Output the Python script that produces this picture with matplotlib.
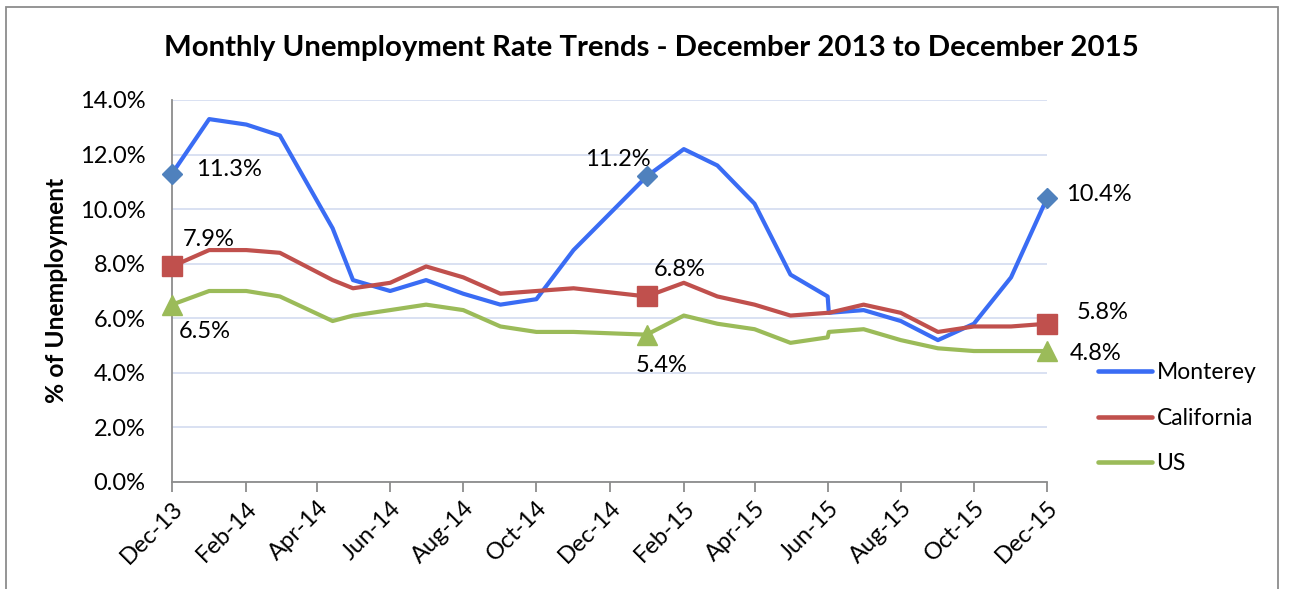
import matplotlib
matplotlib.use('Agg')
import matplotlib.pyplot as plt
import matplotlib.dates as mdates
from matplotlib.lines import Line2D
from matplotlib.patches import Rectangle
from matplotlib.ticker import FuncFormatter
import pandas as pd

# ---------------- data ----------------
dates = pd.to_datetime([
    '2013-12-01', '2014-01-01', '2014-02-01', '2014-03-01', '2014-04-14',
    '2014-05-01', '2014-06-01', '2014-07-01', '2014-08-01', '2014-09-01',
    '2014-10-01', '2014-11-01', '2015-01-01', '2015-02-01', '2015-03-01',
    '2015-04-01', '2015-05-01', '2015-06-01', '2015-06-02', '2015-07-01',
    '2015-08-01', '2015-09-01', '2015-10-01', '2015-11-01', '2015-12-01'])
monterey = [11.3, 13.3, 13.1, 12.7, 9.3, 7.4, 7.0, 7.4, 6.9, 6.5, 6.7, 8.5, 11.2,
            12.2, 11.6, 10.2, 7.6, 6.8, 6.2, 6.3, 5.9, 5.2, 5.8, 7.5, 10.4]
california = [7.9, 8.5, 8.5, 8.4, 7.4, 7.1, 7.3, 7.9, 7.5, 6.9, 7.0, 7.1, 6.8,
              7.3, 6.8, 6.5, 6.1, 6.2, 6.2, 6.5, 6.2, 5.5, 5.7, 5.7, 5.8]
us = [6.5, 7.0, 7.0, 6.8, 5.9, 6.1, 6.3, 6.5, 6.3, 5.7, 5.5, 5.5, 5.4,
      6.1, 5.8, 5.6, 5.1, 5.3, 5.5, 5.6, 5.2, 4.9, 4.8, 4.8, 4.8]
series_names = ['Monterey', 'California', 'US']
labelled_idx = [0, 12, 24]
y_ticks = [0, 2, 4, 6, 8, 10, 12, 14]
x_start, x_end = pd.Timestamp('2013-12-01'), pd.Timestamp('2015-12-01')
title = 'Monthly Unemployment Rate Trends - December 2013 to December 2015'
y_label = '% of Unemployment'

# ---------------- style ----------------
plt.rcParams['font.family'] = ['Lato', 'DejaVu Sans']
W, H = 1289, 589
fig = plt.figure(figsize=(W / 100, H / 100), dpi=100)
fig.patch.set_facecolor('white')

ax = fig.add_axes([172 / W, 1 - 482 / H, (1047 - 172) / W, (482 - 100) / H])

line_colors = ['#3a6cf4', '#c0504d', '#9bbb59']
marker_colors = ['#4f81bd', '#c0504d', '#9bbb59']
markers = ['D', 's', '^']
marker_sizes = [10, 14, 15]
label_offsets = [
    [(57, 6.6), (-29, 18.4), (52, 6.2)],
    [(37, 29.4), (33, 29.4), (56, 13.7)],
    [(33, -24.4), (15, -28.4), (49, 0)],
]

all_series = [monterey, california, us]
for vals, name, lc, mc, mk, ms, offs in zip(all_series, series_names, line_colors,
                                            marker_colors, markers, marker_sizes,
                                            label_offsets):
    ax.plot(dates, vals, color=lc, lw=3.0, solid_joinstyle='round',
            solid_capstyle='round', marker=mk, markevery=labelled_idx, ms=ms,
            mfc=mc, mec=mc, zorder=3, clip_on=False)
    for i, (dx, dy) in zip(labelled_idx, offs):
        ax.annotate(f'{vals[i]:.1f}%', xy=(dates[i], vals[i]),
                    xytext=(dx, dy - 8.5), textcoords='offset pixels',
                    ha='center', va='baseline', fontsize=17, color='black',
                    zorder=4)

ax.set_xlim(x_start, x_end)
ax.set_ylim(y_ticks[0], y_ticks[-1])
ax.set_yticks(y_ticks)
ax.yaxis.set_major_formatter(FuncFormatter(lambda v, p: f'{v:.1f}%'))
ax.xaxis.set_major_locator(mdates.MonthLocator(bymonth=[12, 2, 4, 6, 8, 10]))
ax.xaxis.set_major_formatter(mdates.DateFormatter('%b-%y'))

ax.grid(axis='y', color='#d9e1f2', lw=1.4, zorder=0)
ax.set_axisbelow(True)
for s in ['top', 'right']:
    ax.spines[s].set_visible(False)
for s in ['left', 'bottom']:
    ax.spines[s].set_color('#8c8c8c')
    ax.spines[s].set_linewidth(1.3)
ax.tick_params(axis='y', length=0, pad=19, labelsize=17)
ax.tick_params(axis='x', length=7, width=1.3, color='#8c8c8c', pad=4, labelsize=17)
for lab in ax.get_xticklabels():
    lab.set_rotation(45)
    lab.set_ha('right')
    lab.set_va('top')
    lab.set_rotation_mode('anchor')

# legend (line-only proxies)
proxies = [Line2D([], [], color=c, lw=3.3, solid_capstyle='round') for c in line_colors]
ax.legend(proxies, series_names, loc='upper left',
          bbox_to_anchor=(1098 / W, 1 - 362 / H), bbox_transform=fig.transFigure,
          frameon=False, fontsize=16.5, handlelength=2.35, handletextpad=0.2,
          labelspacing=1.08, borderpad=0, borderaxespad=0)

# title and axis label
t = fig.text(651 / W, 1 - 48 / H, title, ha='center', va='center',
             fontsize=20, fontweight='bold')
yl = fig.text(57 / W, 1 - 290 / H, y_label, ha='center', va='center',
              rotation=90, fontsize=16, fontweight='bold')

renderer = fig.canvas.get_renderer()
def fit(txt, target, dim='width'):
    bb = txt.get_window_extent(renderer)
    cur = bb.width if dim == 'width' else bb.height
    txt.set_fontsize(txt.get_fontsize() * target / cur)
fit(t, 976)
fit(yl, 226, 'height')

# outer frame
fig.patches.append(Rectangle((6 / W, -0.05), (1278 - 6) / W, 1.05 - 7 / H,
                             transform=fig.transFigure, fill=False,
                             edgecolor='#8c8c8c', lw=1.3))

fig.savefig('out.png', dpi=100)
